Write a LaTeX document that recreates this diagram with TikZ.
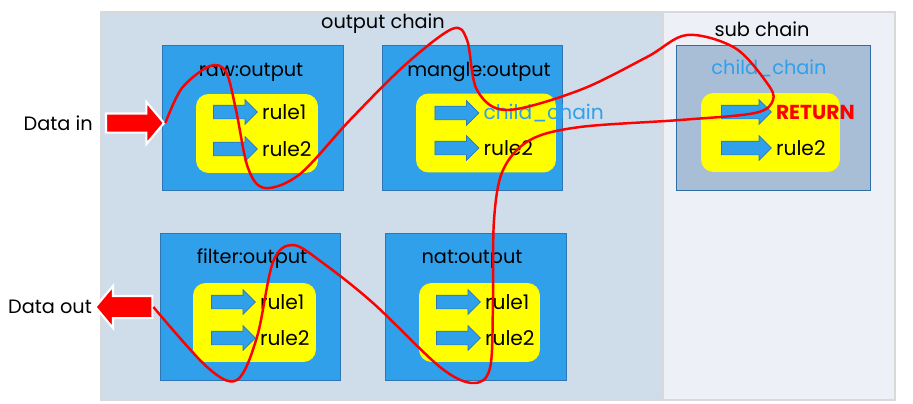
\documentclass[tikz,border=0pt]{standalone}
\usepackage{fontspec}
\setmainfont{Poppins}
\usetikzlibrary{positioning,shapes.arrows}

\definecolor{outbg}{RGB}{207,220,234}
\definecolor{subbg}{RGB}{237,240,246}
\definecolor{boxblue}{RGB}{47,160,233}
\definecolor{boxline}{RGB}{46,117,182}
\definecolor{childbg}{RGB}{168,189,214}
\definecolor{childline}{RGB}{46,110,165}
\definecolor{ruleyellow}{RGB}{255,255,0}

\tikzset{
  chainbg/.style={draw=black!15, line width=0.8pt, minimum height=7.76cm},
  tablebox/.style={draw=boxline, fill=boxblue, minimum width=3.62cm, minimum height=2.9cm},
  rulebox/.style={fill=ruleyellow, rounded corners=0.25cm, minimum height=1.58cm},
  rulearrow/.style={single arrow, draw=boxline, fill=boxblue, inner sep=0pt,
    inner ysep=0.13cm, minimum height=0.88cm, single arrow head extend=0.11cm},
  ruletext/.style={right=0.04cm of #1, inner sep=1pt, font=\fontsize{11.5}{13}\selectfont},
  dataarrow/.style={single arrow, fill=red, draw=white, line width=1.2pt, inner sep=0pt,
    inner ysep=0.17cm, minimum height=1.16cm, single arrow head extend=0.23cm,
    single arrow tip angle=100},
  flow/.style={red, line width=1.4pt}
}

\begin{document}
\begin{tikzpicture}[x=0.02cm, y=-0.02cm, font=\fontsize{11}{13}\selectfont]
    \useasboundingbox (0,0) rectangle (913,403);

    % chains
    \node[chainbg, fill=outbg, minimum width=11.24cm] (outchain) at (382,206) {};
    \node[chainbg, fill=subbg, minimum width=4.64cm] (subchain) at (779,206) {};
    \node (outlabel) at (383,24) {output chain};
    \node (sublabel) at (762,29) {sub chain};

    % tables
    \node[tablebox] (raw) at (252.5,117.5) {};
    \node[tablebox, minimum width=3.6cm] (mangle) at (472,117.5) {};
    \node[tablebox, draw=childline, fill=childbg, minimum width=3.88cm] (child) at (773,117.5) {};
    \node[tablebox, minimum width=3.6cm, minimum height=2.94cm] (filter) at (250,306.5) {};
    \node[tablebox, minimum height=2.94cm] (nat) at (475.5,306.5) {};

    \node (rawtitle) at (251,72) {raw:output};
    \node (mangletitle) at (479,72) {mangle:output};
    \node[text=boxblue] (childtitle) at (769,68) {child\_chain};
    \node (filtertitle) at (252,259) {filter:output};
    \node (nattitle) at (472,259) {nat:output};

    % rules
    \node[rulebox, minimum width=2.44cm] (rawrules) at (257,133.5) {};
    \node[rulebox, minimum width=2.8cm] (manglerules) at (486,133) {};
    \node[rulebox, minimum width=2.78cm] (childrules) at (770.5,132.5) {};
    \node[rulebox, minimum width=2.46cm] (filterrules) at (254.5,322.5) {};
    \node[rulebox, minimum width=2.42cm] (natrules) at (479.5,322.5) {};

    \foreach \t/\x/\ya/\yb in {raw/232/112/149, mangle/453.5/113/148, filter/230/302/338, nat/455/302/338} {
        \node[rulearrow] (\t a1) at (\x,\ya) {};
        \node[rulearrow] (\t a2) at (\x,\yb) {};
    }
    \node[rulearrow, minimum height=1cm] (childa1) at (743,112) {};
    \node[rulearrow, minimum height=1cm] (childa2) at (743,148) {};

    \node[ruletext=rawa1] (rawt1) {rule1};
    \node[ruletext=rawa2] (rawt2) {rule2};
    \node[ruletext=manglea1, text=boxblue] (manglet1) {child\_chain};
    \node[ruletext=manglea2] (manglet2) {rule2};
    \node[ruletext=childa1, text=red, font=\fontsize{11.5}{13}\selectfont\bfseries] (childt1) {RETURN};
    \node[ruletext=childa2] (childt2) {rule2};
    \node[ruletext=filtera1] (filtert1) {rule1};
    \node[ruletext=filtera2] (filtert2) {rule2};
    \node[ruletext=nata1] (natt1) {rule1};
    \node[ruletext=nata2] (natt2) {rule2};

    % data in / out
    \node[dataarrow] (datain) at (131,123) {};
    \node[left=0.12cm of datain] (intext) {Data in};
    \node[dataarrow, shape border rotate=180, minimum height=1.14cm,
          inner ysep=0.2cm, single arrow head extend=0.2cm] (dataout) at (128.5,307) {};
    \node[left=0pt of dataout, inner sep=1pt] (outtext) {Data out};

    % packet path
    \draw[flow] plot[smooth, tension=0.55] coordinates {
        (datain.tip) (182,88) (210,66) (226,72) (236,110) (248,168) (265,188)
        (300,174) (350,120) (405,65) (452,29) (467,40) (477,90) (507,110)
        (580,90) (647,57) (687,35) (735,48) (767,83) (773,100) (755,113)
        (680,120) (580,127) (530,140) (503,170) (494,220) (493,300) (490,368)
        (473,383) (440,367) (373,303) (323,263) (293,245) (273,262) (257,337)
        (237,380) (207,367) (dataout.tail)};
\end{tikzpicture}
\end{document}
